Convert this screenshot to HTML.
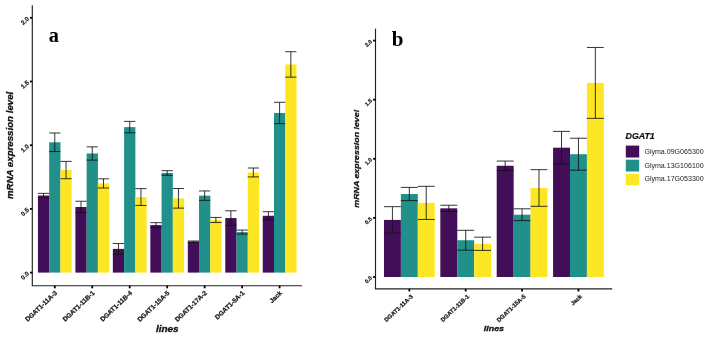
<!DOCTYPE html>
<html><head><meta charset="utf-8"><title>DGAT1 mRNA expression</title>
<style>
html,body{margin:0;padding:0;background:#fff;}
body{width:708px;height:337px;overflow:hidden;}
svg{display:block;will-change:transform;font-family:"Liberation Sans",sans-serif;}
</style></head><body>
<svg width="708" height="337" viewBox="0 0 708 337">
<!-- panel a -->
<rect x="37.92" y="195.52" width="11.29" height="77.08" fill="#430e58"/>
<rect x="49.16" y="142.27" width="11.29" height="130.33" fill="#21908a"/>
<rect x="60.40" y="170.04" width="11.29" height="102.56" fill="#fde725"/>
<rect x="75.39" y="206.99" width="11.29" height="65.61" fill="#430e58"/>
<rect x="86.63" y="153.48" width="11.29" height="119.12" fill="#21908a"/>
<rect x="97.87" y="183.42" width="11.29" height="89.18" fill="#fde725"/>
<rect x="112.86" y="248.90" width="11.29" height="23.70" fill="#430e58"/>
<rect x="124.10" y="127.11" width="11.29" height="145.49" fill="#21908a"/>
<rect x="135.34" y="197.05" width="11.29" height="75.55" fill="#fde725"/>
<rect x="150.33" y="225.08" width="11.29" height="47.52" fill="#430e58"/>
<rect x="161.57" y="172.97" width="11.29" height="99.63" fill="#21908a"/>
<rect x="172.81" y="198.33" width="11.29" height="74.27" fill="#fde725"/>
<rect x="187.80" y="241.64" width="11.29" height="30.96" fill="#430e58"/>
<rect x="199.04" y="195.65" width="11.29" height="76.95" fill="#21908a"/>
<rect x="210.28" y="219.98" width="11.29" height="52.62" fill="#fde725"/>
<rect x="225.27" y="218.07" width="11.29" height="54.53" fill="#430e58"/>
<rect x="236.51" y="232.09" width="11.29" height="40.51" fill="#21908a"/>
<rect x="247.75" y="172.46" width="11.29" height="100.14" fill="#fde725"/>
<rect x="262.74" y="215.78" width="11.29" height="56.82" fill="#430e58"/>
<rect x="273.98" y="112.97" width="11.29" height="159.63" fill="#21908a"/>
<rect x="285.22" y="64.43" width="11.29" height="208.17" fill="#fde725"/>
<g fill="none" stroke="#111" stroke-width="0.85">
<path d="M37.92 193.36H49.16M43.54 193.36V197.69M37.92 197.69H49.16"/>
<path d="M49.16 132.97H60.40M54.78 132.97V151.57M49.16 151.57H60.40"/>
<path d="M60.40 161.38H71.64M66.02 161.38V178.71M60.40 178.71H71.64"/>
<path d="M75.39 201.26H86.63M81.01 201.26V212.72M75.39 212.72H86.63"/>
<path d="M86.63 146.86H97.87M92.25 146.86V160.11M86.63 160.11H97.87"/>
<path d="M97.87 178.83H109.11M103.49 178.83V188.01M97.87 188.01H109.11"/>
<path d="M112.86 243.55H124.10M118.48 243.55V254.25M112.86 254.25H124.10"/>
<path d="M124.10 121.38H135.34M129.72 121.38V132.84M124.10 132.84H135.34"/>
<path d="M135.34 188.64H146.58M140.96 188.64V205.46M135.34 205.46H146.58"/>
<path d="M150.33 222.66H161.57M155.95 222.66V227.50M150.33 227.50H161.57"/>
<path d="M161.57 170.68H172.81M167.19 170.68V175.27M161.57 175.27H172.81"/>
<path d="M172.81 188.52H184.05M178.43 188.52V208.14M172.81 208.14H184.05"/>
<path d="M187.80 241.00H199.04M193.42 241.00V242.28M187.80 242.28H199.04"/>
<path d="M199.04 190.94H210.28M204.66 190.94V200.36M199.04 200.36H210.28"/>
<path d="M210.28 217.44H221.52M215.90 217.44V222.53M210.28 222.53H221.52"/>
<path d="M225.27 210.81H236.51M230.89 210.81V225.33M225.27 225.33H236.51"/>
<path d="M236.51 230.05H247.75M242.13 230.05V234.13M236.51 234.13H247.75"/>
<path d="M247.75 168.00H258.99M253.37 168.00V176.92M247.75 176.92H258.99"/>
<path d="M262.74 211.70H273.98M268.36 211.70V219.86M262.74 219.86H273.98"/>
<path d="M273.98 102.27H285.22M279.60 102.27V123.67M273.98 123.67H285.22"/>
<path d="M285.22 51.69H296.46M290.84 51.69V77.17M285.22 77.17H296.46"/>
</g>
<path d="M32.3 5.2V285.7H302.0" fill="none" stroke="#222" stroke-width="1.15"/>
<path d="M29.90 272.60H32.3" stroke="#000" stroke-width="1.8"/>
<text transform="translate(29.40,274.20) rotate(-43.5)" text-anchor="end" font-size="6.2" font-weight="bold" fill="#1a1a1a" stroke="#1a1a1a" stroke-width="0.22">0.0</text>
<path d="M29.90 208.90H32.3" stroke="#000" stroke-width="1.8"/>
<text transform="translate(29.40,210.50) rotate(-43.5)" text-anchor="end" font-size="6.2" font-weight="bold" fill="#1a1a1a" stroke="#1a1a1a" stroke-width="0.22">0.5</text>
<path d="M29.90 145.20H32.3" stroke="#000" stroke-width="1.8"/>
<text transform="translate(29.40,146.80) rotate(-43.5)" text-anchor="end" font-size="6.2" font-weight="bold" fill="#1a1a1a" stroke="#1a1a1a" stroke-width="0.22">1.0</text>
<path d="M29.90 81.50H32.3" stroke="#000" stroke-width="1.8"/>
<text transform="translate(29.40,83.10) rotate(-43.5)" text-anchor="end" font-size="6.2" font-weight="bold" fill="#1a1a1a" stroke="#1a1a1a" stroke-width="0.22">1.5</text>
<path d="M29.90 17.80H32.3" stroke="#000" stroke-width="1.8"/>
<text transform="translate(29.40,19.40) rotate(-43.5)" text-anchor="end" font-size="6.2" font-weight="bold" fill="#1a1a1a" stroke="#1a1a1a" stroke-width="0.22">2.0</text>
<path d="M54.78 285.7V288.30" stroke="#000" stroke-width="1.8"/>
<text transform="translate(57.58,293.60) rotate(-43.5)" text-anchor="end" font-size="6.5" font-weight="bold" fill="#1a1a1a" stroke="#1a1a1a" stroke-width="0.25">DGAT1-11A-3</text>
<path d="M92.25 285.7V288.30" stroke="#000" stroke-width="1.8"/>
<text transform="translate(95.05,293.60) rotate(-43.5)" text-anchor="end" font-size="6.5" font-weight="bold" fill="#1a1a1a" stroke="#1a1a1a" stroke-width="0.25">DGAT1-11B-1</text>
<path d="M129.72 285.7V288.30" stroke="#000" stroke-width="1.8"/>
<text transform="translate(132.52,293.60) rotate(-43.5)" text-anchor="end" font-size="6.5" font-weight="bold" fill="#1a1a1a" stroke="#1a1a1a" stroke-width="0.25">DGAT1-11B-4</text>
<path d="M167.19 285.7V288.30" stroke="#000" stroke-width="1.8"/>
<text transform="translate(169.99,293.60) rotate(-43.5)" text-anchor="end" font-size="6.5" font-weight="bold" fill="#1a1a1a" stroke="#1a1a1a" stroke-width="0.25">DGAT1-15A-5</text>
<path d="M204.66 285.7V288.30" stroke="#000" stroke-width="1.8"/>
<text transform="translate(207.46,293.60) rotate(-43.5)" text-anchor="end" font-size="6.5" font-weight="bold" fill="#1a1a1a" stroke="#1a1a1a" stroke-width="0.25">DGAT1-17A-2</text>
<path d="M242.13 285.7V288.30" stroke="#000" stroke-width="1.8"/>
<text transform="translate(244.93,293.60) rotate(-43.5)" text-anchor="end" font-size="6.5" font-weight="bold" fill="#1a1a1a" stroke="#1a1a1a" stroke-width="0.25">DGAT1-5A-1</text>
<path d="M279.60 285.7V288.30" stroke="#000" stroke-width="1.8"/>
<text transform="translate(282.40,293.60) rotate(-43.5)" text-anchor="end" font-size="6.5" font-weight="bold" fill="#1a1a1a" stroke="#1a1a1a" stroke-width="0.25">Jack</text>
<text x="53.9" y="41.7" text-anchor="middle" font-family="'Liberation Serif',serif" font-weight="bold" font-size="20.3" fill="#000">a</text>
<text transform="translate(13.1,145.4) rotate(-90) scale(1.09,1)" text-anchor="middle" font-size="8.9" font-weight="bold" font-style="italic" fill="#111" stroke="#111" stroke-width="0.3">mRNA expression level</text>
<text transform="translate(167.3,331.5) scale(1.12,1)" text-anchor="middle" font-size="8.9" font-weight="bold" font-style="italic" fill="#111" stroke="#111" stroke-width="0.3">lines</text>
<!-- panel b -->
<rect x="383.96" y="219.91" width="16.96" height="57.09" fill="#430e58"/>
<rect x="400.87" y="194.02" width="16.96" height="82.98" fill="#21908a"/>
<rect x="417.78" y="202.89" width="16.96" height="74.11" fill="#fde725"/>
<rect x="440.33" y="208.33" width="16.96" height="68.67" fill="#430e58"/>
<rect x="457.24" y="240.24" width="16.96" height="36.76" fill="#21908a"/>
<rect x="474.15" y="243.79" width="16.96" height="33.21" fill="#fde725"/>
<rect x="496.70" y="165.77" width="16.96" height="111.23" fill="#430e58"/>
<rect x="513.61" y="214.71" width="16.96" height="62.29" fill="#21908a"/>
<rect x="530.52" y="188.00" width="16.96" height="89.00" fill="#fde725"/>
<rect x="553.07" y="147.69" width="16.96" height="129.31" fill="#430e58"/>
<rect x="569.98" y="154.19" width="16.96" height="122.81" fill="#21908a"/>
<rect x="586.89" y="82.92" width="16.96" height="194.08" fill="#fde725"/>
<g fill="none" stroke="#111" stroke-width="0.85">
<path d="M383.96 206.67H400.87M392.41 206.67V233.15M383.96 233.15H400.87"/>
<path d="M400.87 187.40H417.78M409.32 187.40V200.64M400.87 200.64H417.78"/>
<path d="M417.78 186.34H434.69M426.23 186.34V219.44M417.78 219.44H434.69"/>
<path d="M440.33 205.25H457.24M448.78 205.25V211.40M440.33 211.40H457.24"/>
<path d="M457.24 230.31H474.15M465.69 230.31V250.17M457.24 250.17H474.15"/>
<path d="M474.15 237.17H491.06M482.60 237.17V250.41M474.15 250.41H491.06"/>
<path d="M496.70 161.05H513.61M505.15 161.05V170.50M496.70 170.50H513.61"/>
<path d="M513.61 208.80H530.52M522.06 208.80V220.62M513.61 220.62H530.52"/>
<path d="M530.52 169.67H547.43M538.97 169.67V206.32M530.52 206.32H547.43"/>
<path d="M553.07 131.38H569.98M561.52 131.38V164.00M553.07 164.00H569.98"/>
<path d="M569.98 138.23H586.89M578.43 138.23V170.15M569.98 170.15H586.89"/>
<path d="M586.89 47.46H603.80M595.34 47.46V118.38M586.89 118.38H603.80"/>
</g>
<path d="M375.5 28.7V288.9H612.2" fill="none" stroke="#222" stroke-width="1.15"/>
<path d="M373.10 277.00H375.5" stroke="#000" stroke-width="1.8"/>
<text transform="translate(372.60,278.40) rotate(-43.5)" text-anchor="end" font-size="5.6" font-weight="bold" fill="#1a1a1a" stroke="#1a1a1a" stroke-width="0.22">0.0</text>
<path d="M373.10 217.90H375.5" stroke="#000" stroke-width="1.8"/>
<text transform="translate(372.60,219.30) rotate(-43.5)" text-anchor="end" font-size="5.6" font-weight="bold" fill="#1a1a1a" stroke="#1a1a1a" stroke-width="0.22">0.5</text>
<path d="M373.10 158.80H375.5" stroke="#000" stroke-width="1.8"/>
<text transform="translate(372.60,160.20) rotate(-43.5)" text-anchor="end" font-size="5.6" font-weight="bold" fill="#1a1a1a" stroke="#1a1a1a" stroke-width="0.22">1.0</text>
<path d="M373.10 99.70H375.5" stroke="#000" stroke-width="1.8"/>
<text transform="translate(372.60,101.10) rotate(-43.5)" text-anchor="end" font-size="5.6" font-weight="bold" fill="#1a1a1a" stroke="#1a1a1a" stroke-width="0.22">1.5</text>
<path d="M373.10 40.60H375.5" stroke="#000" stroke-width="1.8"/>
<text transform="translate(372.60,42.00) rotate(-43.5)" text-anchor="end" font-size="5.6" font-weight="bold" fill="#1a1a1a" stroke="#1a1a1a" stroke-width="0.22">2.0</text>
<path d="M409.32 288.9V291.50" stroke="#000" stroke-width="1.8"/>
<text transform="translate(413.32,296.90) rotate(-43.5)" text-anchor="end" font-size="5.85" font-weight="bold" fill="#1a1a1a" stroke="#1a1a1a" stroke-width="0.25">DGAT1-11A-3</text>
<path d="M465.69 288.9V291.50" stroke="#000" stroke-width="1.8"/>
<text transform="translate(469.69,296.90) rotate(-43.5)" text-anchor="end" font-size="5.85" font-weight="bold" fill="#1a1a1a" stroke="#1a1a1a" stroke-width="0.25">DGAT1-11B-1</text>
<path d="M522.06 288.9V291.50" stroke="#000" stroke-width="1.8"/>
<text transform="translate(526.06,296.90) rotate(-43.5)" text-anchor="end" font-size="5.85" font-weight="bold" fill="#1a1a1a" stroke="#1a1a1a" stroke-width="0.25">DGAT1-15A-5</text>
<path d="M578.43 288.9V291.50" stroke="#000" stroke-width="1.8"/>
<text transform="translate(582.43,296.90) rotate(-43.5)" text-anchor="end" font-size="5.85" font-weight="bold" fill="#1a1a1a" stroke="#1a1a1a" stroke-width="0.25">Jack</text>
<text x="397.6" y="46.1" text-anchor="middle" font-family="'Liberation Serif',serif" font-weight="bold" font-size="21" fill="#000">b</text>
<text transform="translate(359.0,158.75) rotate(-90) scale(1.09,1)" text-anchor="middle" font-size="8.1" font-weight="bold" font-style="italic" fill="#111" stroke="#111" stroke-width="0.3">mRNA expression level</text>
<text transform="translate(493.9,331.4) scale(1.12,1)" text-anchor="middle" font-size="7.9" font-weight="bold" font-style="italic" fill="#111" stroke="#111" stroke-width="0.3">lines</text>
<!-- legend -->
<text x="625.6" y="139.1" font-size="8.8" font-weight="bold" font-style="italic" fill="#111" stroke="#111" stroke-width="0.2">DGAT1</text>
<rect x="625.8" y="145.6" width="13.4" height="11.9" fill="#430e58"/>
<rect x="625.8" y="159.7" width="13.4" height="11.8" fill="#21908a"/>
<rect x="625.8" y="173.8" width="13.4" height="11.5" fill="#fde725"/>
<g font-size="7.07" fill="#222">
<text x="644.4" y="154.1">Glyma.09G065300</text>
<text x="644.4" y="167.6">Glyma.13G106100</text>
<text x="644.4" y="181.1">Glyma.17G053300</text>
</g>
</svg>
</body></html>
